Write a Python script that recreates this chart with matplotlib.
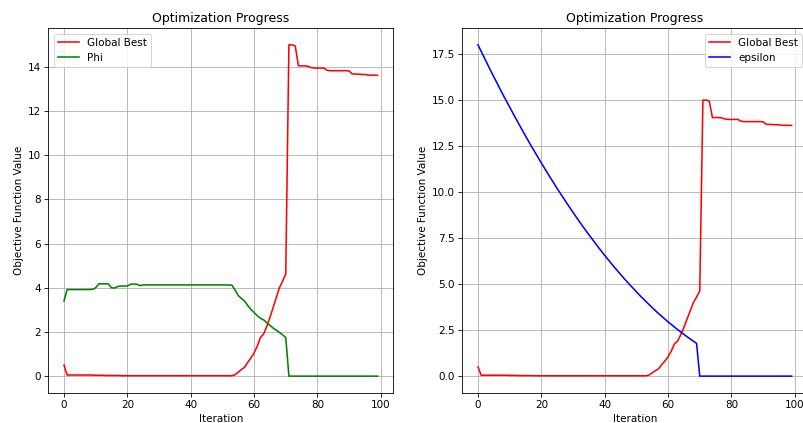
#!/usr/bin/env python3
"""Optimization progress: global best against Phi and epsilon."""

import numpy as np
import matplotlib

matplotlib.use("Agg")
import matplotlib.pyplot as plt


iterations = np.arange(100)

global_best = [
    0.50, 0.05, 0.05, 0.05, 0.05, 0.05, 0.05, 0.05, 0.05, 0.05,
    0.04, 0.04, 0.04, 0.03, 0.03, 0.03, 0.03, 0.03, 0.02, 0.02,
    0.02, 0.02, 0.02, 0.02, 0.02, 0.02, 0.02, 0.02, 0.02, 0.02,
    0.02, 0.02, 0.02, 0.02, 0.02, 0.02, 0.02, 0.02, 0.02, 0.02,
    0.02, 0.02, 0.02, 0.02, 0.02, 0.02, 0.02, 0.02, 0.02, 0.02,
    0.02, 0.02, 0.02, 0.02, 0.06, 0.18, 0.30, 0.40, 0.62, 0.82,
    1.05, 1.35, 1.75, 1.90, 2.25, 2.65, 3.10, 3.55, 4.00, 4.30,
    4.62, 15.00, 15.00, 14.95, 14.05, 14.05, 14.05, 14.03, 13.97, 13.95,
    13.95, 13.95, 13.95, 13.85, 13.83, 13.83, 13.83, 13.83, 13.83, 13.83,
    13.82, 13.68, 13.68, 13.67, 13.66, 13.66, 13.63, 13.63, 13.63, 13.62,
]

phi = [
    3.40, 3.92, 3.92, 3.92, 3.92, 3.92, 3.92, 3.92, 3.92, 3.93,
    4.00, 4.18, 4.18, 4.18, 4.18, 4.00, 3.99, 4.06, 4.08, 4.08,
    4.08, 4.16, 4.17, 4.16, 4.10, 4.13, 4.13, 4.13, 4.13, 4.13,
    4.13, 4.13, 4.13, 4.13, 4.13, 4.13, 4.13, 4.13, 4.13, 4.13,
    4.13, 4.13, 4.13, 4.13, 4.13, 4.13, 4.13, 4.13, 4.13, 4.13,
    4.13, 4.13, 4.13, 4.12, 3.90, 3.65, 3.52, 3.40, 3.20, 3.02,
    2.88, 2.74, 2.62, 2.55, 2.42, 2.30, 2.18, 2.08, 1.98, 1.87,
    1.75, 0.00, 0.00, 0.00, 0.00, 0.00, 0.00, 0.00, 0.00, 0.00,
    0.00, 0.00, 0.00, 0.00, 0.00, 0.00, 0.00, 0.00, 0.00, 0.00,
    0.00, 0.00, 0.00, 0.00, 0.00, 0.00, 0.00, 0.00, 0.00, 0.00,
]

epsilon = [
    18.00, 17.65, 17.30, 16.95, 16.60, 16.26, 15.93, 15.59, 15.26, 14.94,
    14.62, 14.30, 13.98, 13.67, 13.36, 13.05, 12.75, 12.45, 12.16, 11.87,
    11.58, 11.30, 11.02, 10.74, 10.47, 10.19, 9.93, 9.67, 9.41, 9.15,
    8.90, 8.65, 8.40, 8.16, 7.92, 7.69, 7.46, 7.23, 7.00, 6.78,
    6.56, 6.35, 6.14, 5.93, 5.73, 5.53, 5.33, 5.14, 4.95, 4.77,
    4.58, 4.40, 4.23, 4.06, 3.89, 3.72, 3.56, 3.40, 3.25, 3.10,
    2.95, 2.81, 2.67, 2.53, 2.40, 2.27, 2.14, 2.02, 1.90, 1.78,
    0.00, 0.00, 0.00, 0.00, 0.00, 0.00, 0.00, 0.00, 0.00, 0.00,
    0.00, 0.00, 0.00, 0.00, 0.00, 0.00, 0.00, 0.00, 0.00, 0.00,
    0.00, 0.00, 0.00, 0.00, 0.00, 0.00, 0.00, 0.00, 0.00, 0.00,
]

panels = [
    ("Phi", phi, "g", "upper left"),
    ("epsilon", epsilon, "b", "upper right"),
]


def main() -> None:
    dpi = 75
    fig = plt.figure(figsize=(803 / dpi, 423 / dpi), dpi=dpi)

    # second panel runs past the right edge, as in the cropped original
    boxes = [
        [48.3 / 803, 30.3 / 423, 345 / 803, 364.4 / 423],
        [462.3 / 803, 30.3 / 423, 345 / 803, 364.4 / 423],
    ]

    for box, (name, values, color, loc) in zip(boxes, panels):
        ax = fig.add_axes(box)
        ax.plot(iterations, global_best, color="r", label="Global Best")
        ax.plot(iterations, values, color=color, label=name)
        ax.set_title("Optimization Progress")
        ax.set_xlabel("Iteration")
        ax.set_ylabel("Objective Function Value")
        ax.legend(loc=loc)
        ax.grid(True)

    fig.savefig("out.png", dpi=dpi)


if __name__ == "__main__":
    main()
